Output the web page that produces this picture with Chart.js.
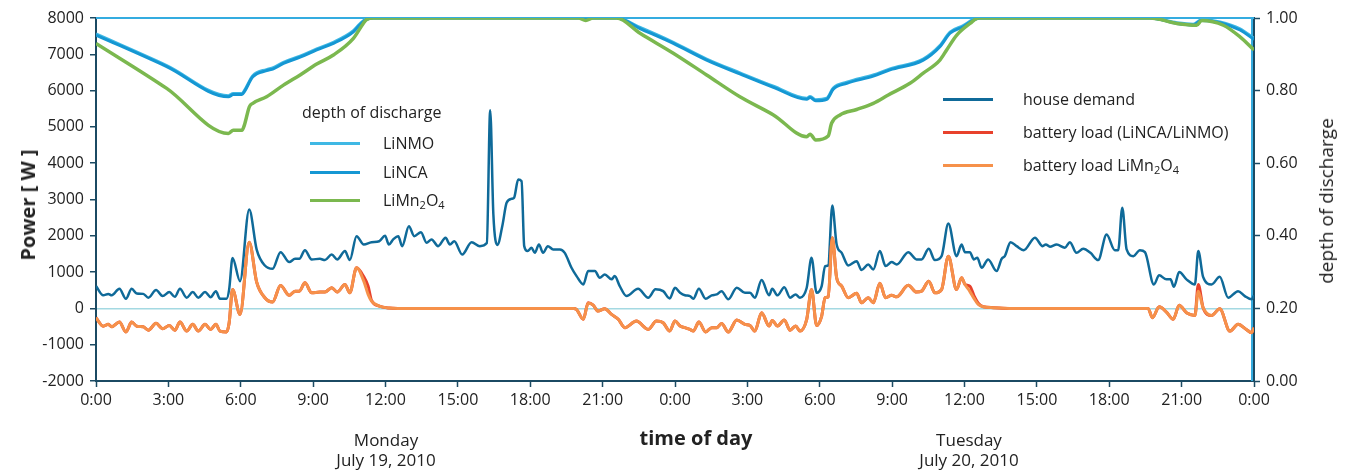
<!DOCTYPE html>
<html>
<head>
<meta charset="utf-8">
<script src="https://cdn.jsdelivr.net/npm/chart.js@4.4.1/dist/chart.umd.min.js"></script>
<style>
  body { margin: 0; background: #fff; }
  #wrap { position: relative; width: 1348px; height: 471px; font-family: "Open Sans", sans-serif; color: #222; }
  #wrap div.t { position: absolute; white-space: nowrap; line-height: 22px; }
  .leg { font-size: 16px; }
  .swatch { position: absolute; height: 3px; width: 50px; }
  .title { font-weight: bold; font-size: 20px; }
  #wrap div.day { font-size: 17px; text-align: center; line-height: 20px; }
  sub { font-size: 11px; vertical-align: -3px; line-height: 0; }
</style>
</head>
<body>
<div id="wrap">
  <canvas id="chart" width="1348" height="471"></canvas>

  <div class="t title" style="left:28px; top:205px; transform: translate(-50%,-50%) rotate(-90deg);">Power [ W ]</div>
  <div class="t" style="left:1326px; top:201px; font-size:19px; transform: translate(-50%,-50%) rotate(-90deg);">depth of discharge</div>
  <div class="t title" style="left:696px; top:438px; transform: translate(-50%,-50%);">time of day</div>
  <div class="t day" style="left:386px; top:430px; transform: translateX(-50%);">Monday<br>July 19, 2010</div>
  <div class="t day" style="left:969px; top:430px; transform: translateX(-50%);">Tuesday<br>July 20, 2010</div>

  <div class="t leg" style="left:302px; top:101px;">depth of discharge</div>
  <div class="swatch" style="left:310px; top:142px; background:#3fb8e4;"></div>
  <div class="t leg" style="left:383px; top:132px;">LiNMO</div>
  <div class="swatch" style="left:310px; top:171px; background:#1597d3;"></div>
  <div class="t leg" style="left:383px; top:161px;">LiNCA</div>
  <div class="swatch" style="left:310px; top:199px; background:#7bb84f;"></div>
  <div class="t leg" style="left:383px; top:189px;">LiMn<sub>2</sub>O<sub>4</sub></div>

  <div class="swatch" style="left:943px; top:98px; background:#0f6a99;"></div>
  <div class="t leg" style="left:1023px; top:88px;">house demand</div>
  <div class="swatch" style="left:943px; top:131px; background:#e8412c;"></div>
  <div class="t leg" style="left:1023px; top:121px;">battery load (LiNCA/LiNMO)</div>
  <div class="swatch" style="left:943px; top:164px; background:#f6914a;"></div>
  <div class="t leg" style="left:1023px; top:154px;">battery load LiMn<sub>2</sub>O<sub>4</sub></div>
</div>

<script>
// hours since Monday 0:00
const demandHours = [0,0.30,0.51,0.65,0.97, 1.24,1.48,1.69,1.96,2.17, 2.49,2.76,3.04,3.27,3.48,
  3.76,4.01,4.24,4.52,4.75, 4.97,5.14,5.41,5.52,5.66, 5.97,6.35,6.66,7.0,7.32,
  7.65,8.01,8.25,8.43,8.66, 8.94,9.28,9.49,9.77,10.0, 10.32,10.52,10.8,11.1,11.42,
  11.74,11.98,12.14,12.32,12.53, 12.69,12.97,13.19,13.47,13.70, 13.91,14.18,14.49,14.67,14.85,
  15.18,15.57,15.91,16.2,16.34, 16.47,16.64,16.85,17.02,17.23, 17.33,17.5,17.64,17.75,17.89,
  18.05,18.19,18.36,18.53,18.73, 18.95,19.23,19.43,19.71,19.92, 20.2,20.4,20.68,20.88,21.09,
  21.37,21.5,21.71,21.99,22.47, 22.89,23.19,23.51,23.78,24.0, 24.21,24.41,24.62,24.76,24.99,
  25.27,25.52,25.73,25.93,26.21, 26.56,26.9,27.11,27.31,27.59, 27.9,28.03,28.25,28.53,28.77,
  29.0,29.18,29.46,29.66,29.87, 30.08,30.22,30.35,30.52,30.7, 30.91,31.18,31.53,31.73,32.01,
  32.22,32.49,32.73,32.98,33.19, 33.67,34.01,34.22,34.52,34.77, 35.05,35.33,35.67,35.88,36.02,
  36.22,36.39,36.53,36.71,36.98, 37.33,37.54,37.67,37.91,38.16, 38.46,38.92,39.24,39.37,39.54,
  39.82,40.16,40.37,40.64,40.92, 41.22,41.54,41.89,42.23,42.37, 42.54,42.72,43.0,43.27,43.48,
  43.85,44.07,44.37,44.54,44.68, 44.9,45.2,45.55,45.69,45.89, 46.24,46.58,46.93,47.34,47.62,
  47.9,48.0];
const demandW = [615,360,400,360,540, 265,540,410,400,295, 505,340,450,320,540,
  295,450,295,450,310, 470,265,265,525,1390, 750,2725,1620,1180,1090,
  1550,1275,1365,1365,1600, 1350,1365,1330,1485,1350, 1580,1330,1990,1760,1825,
  1850,2000,1760,1900,1990, 1715,2265,1990,2100,1810, 1900,1715,1945,1760,1850,
  1485,1825,1715,1800,5460, 2600,1750,2300,2910,3020, 3050,3550,3505,1715,1580,
  1670,1530,1760,1530,1715, 1625,1625,1530,1120,890, 660,1030,1030,845,935,
  800,890,615,340,540, 295,525,475,275,570, 430,360,340,265,540,
  265,360,385,475,250, 570,430,430,295,780, 360,540,360,585,295,
  385,295,570,1395,430, 615,1165,1185,2835,1760, 1530,1185,1300,1055,1210,
  1075,1580,1165,1275,1210, 1550,1350,1350,1640,1330, 1440,2340,1440,1760,1550,
  1550,1350,1395,1120,1350, 1030,1365,1440,1825,1715, 1605,1945,1715,1760,1700,
  1760,1670,1825,1530,1640, 1530,1330,2035,1605,1605, 2770,1625,1440,1605,1550,
  660,910,800,800,595, 1000,800,660,1580,870, 660,870,295,475,340,
  250,360];

const loadHours = [0,0.30,0.51,0.65,0.97, 1.24,1.48,1.69,1.96,2.17, 2.49,2.76,3.04,3.27,3.48,
  3.76,4.01,4.24,4.52,4.75, 4.97,5.14,5.41,5.52,5.66, 5.97,6.35,6.66,7.0,7.32,
  7.65,8.01,8.25,8.43,8.66, 8.94,9.28,9.49,9.77,10.0, 10.32,10.52,10.8,11.1,11.28,
  11.42,11.74,12.15,12.5,19.8, 19.92,20.2,20.4,20.61,20.81, 21.09,21.37,21.65,21.92,22.4,
  22.89,23.23,23.51,23.78,24.0, 24.21,24.41,24.62,24.76,24.99, 25.27,25.52,25.73,25.93,26.21,
  26.56,26.9,27.11,27.31,27.59, 27.9,28.03,28.25,28.53,28.77, 29.0,29.18,29.46,29.66,29.87,
  30.08,30.22,30.35,30.52,30.7, 30.91,31.18,31.53,31.73,32.01, 32.22,32.49,32.73,32.98,33.19,
  33.67,34.01,34.22,34.52,34.77, 35.05,35.33,35.67,35.88,36.02, 36.22,36.4,36.57,36.78,37.2,
  37.88,43.61,43.79,44.07,44.37, 44.65,44.9,45.2,45.55,45.69, 45.89,46.24,46.58,47.0,47.34,
  47.68,47.9,48.0];
const loadLmoW = [-260,-490,-440,-505,-375, -650,-375,-490,-505,-600, -410,-560,-470,-600,-375,
  -625,-440,-625,-440,-580, -440,-625,-650,-395,520, -165,1825,725,295,175,
  630,360,475,475,705, 430,450,450,570,450, 660,430,1120,750,385,
  200,65,10,0,0, -30,-300,140,90,-75, -10,-165,-300,-530,-350,
  -580,-350,-395,-625,-350, -485,-530,-580,-625,-375, -650,-530,-530,-415,-650,
  -320,-440,-470,-625,-120, -485,-330,-485,-320,-600, -485,-625,-300,520,-470,
  -210,295,320,1945,845, 615,295,415,155,295, 155,690,295,360,320,
  635,450,475,750,430, 520,1440,520,845,660, 470,270,110,45,20,
  0,0,-255,45,-100, -300,85,-120,-195,470, 20,-195,-10,-625,-440,
  -580,-670,-530];
const loadNcaW = [-260,-490,-440,-505,-375, -650,-375,-490,-505,-600, -410,-560,-470,-600,-375,
  -625,-440,-625,-440,-580, -440,-625,-650,-395,520, -165,1825,725,295,175,
  630,360,475,475,705, 430,450,450,570,450, 660,430,1120,870,615,
  220,65,10,0,0, -30,-300,155,90,-75, -10,-165,-300,-530,-350,
  -580,-350,-395,-625,-350, -485,-530,-580,-625,-375, -650,-530,-530,-415,-650,
  -320,-440,-470,-625,-120, -485,-330,-485,-320,-600, -485,-625,-300,520,-470,
  -210,295,320,1945,845, 615,295,415,155,295, 155,690,295,360,320,
  635,450,475,750,430, 520,1440,520,845,660, 615,340,140,45,20,
  0,0,-255,45,-100, -300,85,-120,-195,660, 20,-195,-10,-625,-440,
  -580,-670,-530];

const dodHours = [0,2.93,5.49,5.69,6.05, 6.15,6.5,7.07,7.35,7.77, 8.46,9.15,9.84,10.67,10.94,
  11.22,11.5,21.58,22.55,23.93, 25.31,26.69,28.08,29.46,29.6, 29.83,30.29,30.56,31.12,32.22,
  32.91,34.29,34.98,35.40,35.95, 36.37,36.65,43.69,44.8,45.48, 45.83,46.59,47.42,48.0];
const dodLiNCA = [0.953,0.866,0.783,0.789,0.789, 0.797,0.838,0.855,0.86,0.875, 0.892,0.912,0.930,0.962,0.981,
  0.996,1.0,1.0,0.971,0.930, 0.884,0.846,0.809,0.776,0.781, 0.772,0.776,0.804,0.820,0.840,
  0.857,0.884,0.921,0.958,0.976, 0.994,1.0,1.0,0.985,0.981, 0.993,0.987,0.967,0.941];
const dodLiNMO = [0.956,0.869,0.786,0.792,0.792, 0.800,0.841,0.858,0.863,0.878, 0.895,0.915,0.933,0.965,0.984,
  0.998,1.0,1.0,0.974,0.933, 0.887,0.849,0.812,0.779,0.784, 0.775,0.779,0.807,0.823,0.843,
  0.860,0.887,0.924,0.961,0.979, 0.996,1.0,1.0,0.987,0.983, 0.995,0.989,0.970,0.944];

const lmoHours = [0,2.93,5.49,5.69,6.05, 6.15,6.36,6.5,7.07,7.77, 8.46,9.15,9.84,10.67,11.08,
  11.22,11.5,20.0,20.3,20.6, 21.58,22.55,23.93,25.31,26.69, 28.08,29.46,29.6,29.83,30.35,
  30.49,30.84,31.53,32.22,32.84, 33.74,34.29,34.98,35.26,35.68, 36.23,36.58,43.69,44.8,45.62,
  45.83,46.73,47.42,48.0];
const dodLiMn2O4 = [0.930,0.806,0.682,0.691,0.691, 0.705,0.756,0.765,0.783,0.815, 0.843,0.873,0.898,0.944,0.985,
  0.996,1.0,1.0,0.993,1.0, 1.0,0.958,0.903,0.843,0.783, 0.733,0.673,0.68,0.664,0.675,
  0.710,0.733,0.748,0.765,0.788, 0.820,0.848,0.884,0.912,0.953, 0.985,1.0,1.0,0.985,0.980,
  0.993,0.980,0.948,0.912];

const pts = (xs, ys) => xs.map((x, i) => ({ x, y: ys[i] }));

const axisDark = "#1b4a63";
const tickFont = { family: "Open Sans", size: 16 };

const frame = {
  id: "frame",
  beforeDatasetsDraw(chart) {
    const { ctx, chartArea: a } = chart;
    ctx.save();
    ctx.strokeStyle = "#34ace0";
    ctx.lineWidth = 2;
    ctx.beginPath();
    ctx.moveTo(a.left, a.top);
    ctx.lineTo(a.right, a.top);
    ctx.moveTo(a.right - 2, a.top);
    ctx.lineTo(a.right - 2, a.bottom);
    ctx.stroke();
    ctx.restore();
  }
};

const line = (data, color, width, order, axis) => ({
  data, borderColor: color, backgroundColor: color, borderWidth: width,
  pointRadius: 0, cubicInterpolationMode: "monotone", order, yAxisID: axis
});

new Chart(document.getElementById("chart"), {
  type: "line",
  data: {
    datasets: [
      line(pts(loadHours, loadLmoW), "#f6914a", 3, 0, "y"),
      line(pts(loadHours, loadNcaW), "#e8412c", 3, 1, "y"),
      line(pts(demandHours, demandW), "#0f6a99", 2.5, 2, "y"),
      line(pts(lmoHours, dodLiMn2O4), "#7bb84f", 3.5, 3, "y1"),
      line(pts(dodHours, dodLiNCA), "#1597d3", 3, 4, "y1"),
      line(pts(dodHours, dodLiNMO), "#3fb8e4", 3, 5, "y1")
    ]
  },
  options: {
    responsive: false,
    animation: false,
    devicePixelRatio: 1,
    layout: { padding: { top: 18, left: 0, right: 0, bottom: 0 } },
    plugins: { legend: { display: false }, tooltip: { enabled: false } },
    scales: {
      x: {
        type: "linear", min: 0, max: 48,
        afterFit: s => { s.height = 90; },
        ticks: { stepSize: 3, font: tickFont, color: "#222", padding: 4, maxRotation: 0,
                 callback: v => (v % 24) + ":00" },
        grid: { drawOnChartArea: false, tickLength: 6, tickColor: axisDark, tickWidth: 1.5 },
        border: { color: axisDark, width: 2 }
      },
      y: {
        position: "left", min: -2000, max: 8000,
        afterFit: s => { s.width = 96; },
        ticks: { stepSize: 1000, font: tickFont, color: "#222", padding: 6, callback: v => String(v) },
        grid: {
          color: c => c.tick && c.tick.value === 0 ? "#a4d9e2" : "rgba(0,0,0,0)",
          lineWidth: 1.5, tickLength: 6, tickColor: axisDark, tickWidth: 1.5
        },
        border: { color: axisDark, width: 2 }
      },
      y1: {
        position: "right", min: 0, max: 1,
        afterFit: s => { s.width = 94; },
        ticks: { stepSize: 0.2, font: tickFont, color: "#222", padding: 6, callback: v => v.toFixed(2) },
        grid: { drawOnChartArea: false, tickLength: 6, tickColor: axisDark, tickWidth: 1.5 },
        border: { color: axisDark, width: 2 }
      }
    }
  },
  plugins: [frame]
});
</script>
</body>
</html>
